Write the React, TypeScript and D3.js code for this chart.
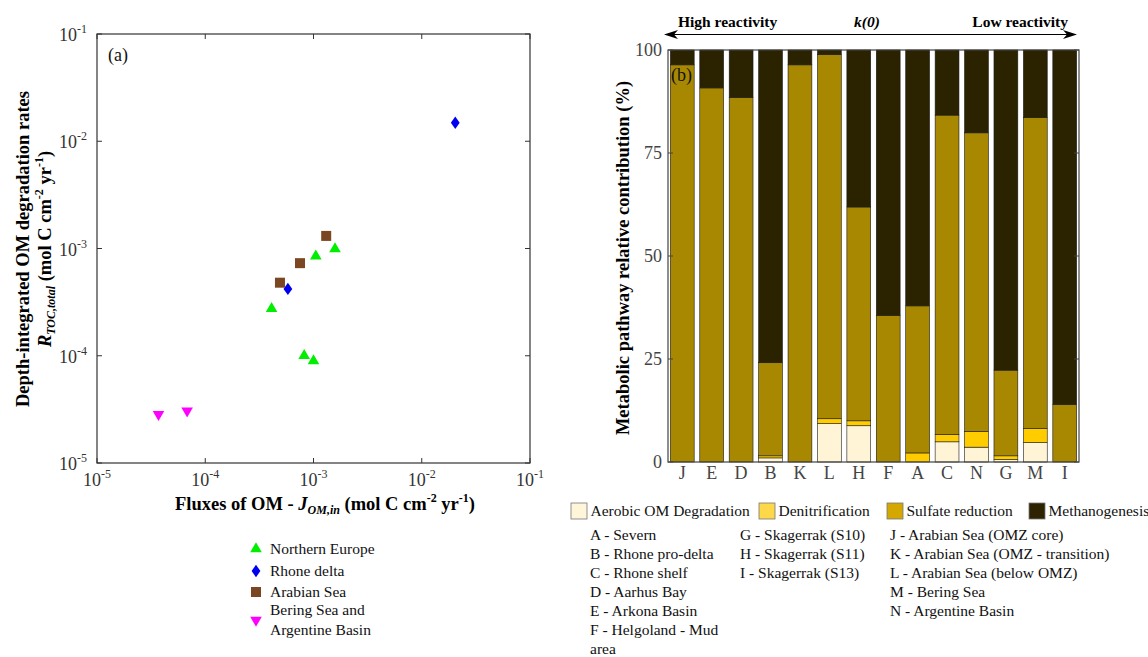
import * as d3 from 'd3';

// ---- panel (a): scatter, log-log ----
const northernEuropeX = [1.58e-3, 1.05e-3, 4.1e-4, 8.2e-4, 1.0e-3];
const northernEuropeY = [9.9e-4, 8.5e-4, 2.75e-4, 1.0e-4, 8.95e-5];
const rhoneX = [2.04e-2, 5.8e-4];
const rhoneY = [1.49e-2, 4.2e-4];
const arabianX = [4.9e-4, 7.5e-4, 1.31e-3];
const arabianY = [4.8e-4, 7.3e-4, 1.31e-3];
const beringX = [3.7e-5, 6.8e-5];
const beringY = [2.85e-5, 3.06e-5];
const decades = [1e-5, 1e-4, 1e-3, 1e-2, 1e-1];

// ---- panel (b): stacked bars ----
const sites = ['J', 'E', 'D', 'B', 'K', 'L', 'H', 'F', 'A', 'C', 'N', 'G', 'M', 'I'];
const aerobic = [0, 0, 0, 1.0, 0, 9.3, 8.8, 0, 0, 4.9, 3.6, 0.6, 4.7, 0];
const denitrification = [0, 0, 0, 0.5, 0, 1.2, 1.2, 0, 2.2, 1.8, 3.8, 0.9, 3.4, 0];
const sulfate = [96.4, 90.8, 88.5, 22.6, 96.4, 88.4, 51.9, 35.6, 35.7, 77.5, 72.5, 20.8, 75.5, 14.0];
const methano = [3.6, 9.2, 11.5, 75.9, 3.6, 1.1, 38.1, 64.4, 62.1, 15.8, 20.1, 77.7, 16.4, 86.0];
const pctTicks = [0, 25, 50, 75, 100];
const pathways = ['Aerobic OM Degradation', 'Denitrification', 'Sulfate reduction', 'Methanogenesis'];
const siteCol1 = ['A - Severn', 'B - Rhone pro-delta', 'C - Rhone shelf', 'D - Aarhus Bay', 'E - Arkona Basin', 'F - Helgoland - Mud', 'area'];
const siteCol2 = ['G - Skagerrak (S10)', 'H - Skagerrak (S11)', 'I - Skagerrak (S13)'];
const siteCol3 = ['J - Arabian Sea (OMZ core)', 'K - Arabian Sea (OMZ - transition)', 'L - Arabian Sea (below OMZ)', 'M - Bering Sea', 'N - Argentine Basin'];

const FONT = '"Liberation Serif", "Times New Roman", serif';
const AX = '#333';
const barColors = ['#FFF5D6', '#FFCC00', '#A88800', '#2B2200'];
const swatchColors = ['#FFF6DA', '#FFD84A', '#D4A800', '#2E2300'];
const keys = ['aerobic', 'denit', 'sulfate', 'methano'];

const Pow = ({ v }: { v: number }) => (
	<>
		10<tspan dy={-8} fontSize={12}>{Math.round(Math.log10(v))}</tspan>
	</>
);

function ScatterPanel() {
	const x = d3.scaleLog().domain([1e-5, 1e-1]).range([97, 530]);
	const y = d3.scaleLog().domain([1e-5, 1e-1]).range([463, 34]);
	const tri = d3.symbol().type(d3.symbolTriangle).size(58)() ?? '';
	const dia = 'M0,-6.2L4.4,0L0,6.2L-4.4,0Z';
	const sq = d3.symbol().type(d3.symbolSquare).size(100)() ?? '';

	const groups = [
		{ xs: northernEuropeX, ys: northernEuropeY, d: tri, fill: '#00EE00', rot: 0, name: ['Northern Europe'] },
		{ xs: rhoneX, ys: rhoneY, d: dia, fill: '#0000F0', rot: 0, name: ['Rhone delta'] },
		{ xs: arabianX, ys: arabianY, d: sq, fill: '#7B4722', rot: 0, name: ['Arabian Sea'] },
		{ xs: beringX, ys: beringY, d: tri, fill: '#FF00FF', rot: 180, name: ['Bering Sea and', 'Argentine Basin'] },
	];
	const legendY = [549, 571, 592, 620];

	return (
		<g fontFamily={FONT}>
			<rect x={97} y={34} width={433} height={429} fill='none' stroke={AX} strokeWidth={1.2} />
			{decades.map((v) => (
				<g key={'x' + v}>
					<line x1={x(v)} x2={x(v)} y1={463} y2={458} stroke={AX} />
					<line x1={x(v)} x2={x(v)} y1={34} y2={39} stroke={AX} />
					<text x={x(v)} y={486} textAnchor='middle' fontSize={18} fill={AX}>
						<Pow v={v} />
					</text>
				</g>
			))}
			{decades.map((v) => (
				<g key={'y' + v}>
					<line x1={97} x2={102} y1={y(v)} y2={y(v)} stroke={AX} />
					<line x1={530} x2={525} y1={y(v)} y2={y(v)} stroke={AX} />
					<text x={87} y={y(v) + 7} textAnchor='end' fontSize={18} fill={AX}>
						<Pow v={v} />
					</text>
				</g>
			))}
			<text x={108} y={61} fontSize={18} fill='#111'>(a)</text>
			{groups.map((g, gi) =>
				g.xs.map((xv, i) => (
					<path
						key={gi + '-' + i}
						d={g.d}
						fill={g.fill}
						transform={`translate(${x(xv)},${y(g.ys[i])}) rotate(${g.rot})`}
					/>
				))
			)}
			<text x={325} y={510} textAnchor='middle' fontSize={18.5} fontWeight='bold' fill='#000'>
				Fluxes of OM - <tspan fontStyle='italic'>J</tspan>
				<tspan dy={4} fontSize={12} fontStyle='italic'>OM,in</tspan>
				<tspan dy={-4}> (mol C cm</tspan>
				<tspan dy={-8} fontSize={12}>-2</tspan>
				<tspan dy={8}> yr</tspan>
				<tspan dy={-8} fontSize={12}>-1</tspan>
				<tspan dy={8}>)</tspan>
			</text>
			<g transform='translate(29,249) rotate(-90)'>
				<text textAnchor='middle' fontSize={18.5} fontWeight='bold' fill='#000'>
					Depth-integrated OM degradation rates
				</text>
			</g>
			<g transform='translate(51,249) rotate(-90)'>
				<text textAnchor='middle' fontSize={18.5} fontWeight='bold' fill='#000'>
					<tspan fontStyle='italic'>R</tspan>
					<tspan dy={4} fontSize={12} fontStyle='italic'>TOC,total</tspan>
					<tspan dy={-4}>{'  (mol C cm'}</tspan>
					<tspan dy={-8} fontSize={12}>-2</tspan>
					<tspan dy={8}> yr</tspan>
					<tspan dy={-8} fontSize={12}>-1</tspan>
					<tspan dy={8}>)</tspan>
				</text>
			</g>
			{groups.map((g, gi) => (
				<g key={'lg' + gi}>
					<path d={g.d} fill={g.fill} transform={`translate(256,${legendY[gi]}) rotate(${g.rot})`} />
					{g.name.map((t, ti) => (
						<text
							key={t}
							x={270}
							y={g.name.length > 1 ? legendY[gi] - 5 + ti * 20 : legendY[gi] + 5}
							fontSize={15.5}
							fill='#111'
						>
							{t}
						</text>
					))}
				</g>
			))}
		</g>
	);
}

function BarPanel() {
	const x = d3.scaleBand<string>().domain(sites).range([668, 1079]).paddingInner(0.19).paddingOuter(0.08);
	const y = d3.scaleLinear().domain([0, 100]).range([462, 50]);
	const rows = sites.map((s, i) => ({
		site: s,
		aerobic: aerobic[i],
		denit: denitrification[i],
		sulfate: sulfate[i],
		methano: methano[i],
	}));
	const series = d3.stack<(typeof rows)[number]>().keys(keys)(rows);
	const swX = [571, 759, 887, 1029];

	return (
		<g fontFamily={FONT}>
			{series.map((s, si) =>
				s.map((d, i) =>
					d[1] - d[0] > 0 ? (
						<rect
							key={si + '-' + i}
							x={x(sites[i])}
							y={y(Math.min(d[1], 100))}
							width={x.bandwidth()}
							height={y(d[0]) - y(Math.min(d[1], 100))}
							fill={barColors[si]}
							stroke='#1a1a1a'
							strokeWidth={0.6}
						/>
					) : null
				)
			)}
			<rect x={668} y={50} width={411} height={412} fill='none' stroke='#444' strokeWidth={1.2} />
			{pctTicks.map((t) => (
				<g key={t}>
					<line x1={668} x2={673} y1={y(t)} y2={y(t)} stroke='#444' />
					<line x1={1079} x2={1074} y1={y(t)} y2={y(t)} stroke='#444' />
					<text x={662} y={y(t) + 6} textAnchor='end' fontSize={18} fill='#444'>
						{t}
					</text>
				</g>
			))}
			{sites.map((s) => (
				<text key={s} x={(x(s) ?? 0) + x.bandwidth() / 2} y={479} textAnchor='middle' fontSize={18} fill='#444'>
					{s}
				</text>
			))}
			<text x={671} y={81} fontSize={18} fill='#111'>(b)</text>
			<g transform='translate(629,258) rotate(-90)'>
				<text textAnchor='middle' fontSize={18.5} fontWeight='bold' fill='#000'>
					Metabolic pathway relative contribution (%)
				</text>
			</g>
			{/* reactivity arrow */}
			<line x1={668} x2={1073} y1={34.5} y2={34.5} stroke='#000' strokeWidth={1.2} />
			<path d='M664,34.5 L678,30 L674,34.5 L678,39 Z' fill='#000' />
			<path d='M1077,34.5 L1063,30 L1067,34.5 L1063,39 Z' fill='#000' />
			<text x={678} y={27} fontSize={15.5} fontWeight='bold'>High reactivity</text>
			<text x={867} y={27} textAnchor='middle' fontSize={15.5} fontWeight='bold' fontStyle='italic'>k(0)</text>
			<text x={1068} y={27} textAnchor='end' fontSize={15.5} fontWeight='bold'>Low reactivity</text>
			{/* legend */}
			{pathways.map((p, i) => (
				<g key={p}>
					<rect x={swX[i]} y={503} width={16} height={16} fill={swatchColors[i]} stroke='#777' strokeWidth={0.8} />
					<text x={swX[i] + 19.5} y={516} fontSize={15.5} fill='#111'>{p}</text>
				</g>
			))}
			{[siteCol1, siteCol2, siteCol3].map((col, ci) =>
				col.map((t, ti) => (
					<text key={t} x={[590, 740, 890][ci]} y={540 + ti * 19} fontSize={15.5} fill='#111'>
						{t}
					</text>
				))
			)}
		</g>
	);
}

export default function App() {
	return (
		<svg
			width={1148}
			height={657}
			style={{ position: 'absolute', left: 0, top: 0, background: '#fff' }}
		>
			<ScatterPanel />
			<BarPanel />
		</svg>
	);
}
